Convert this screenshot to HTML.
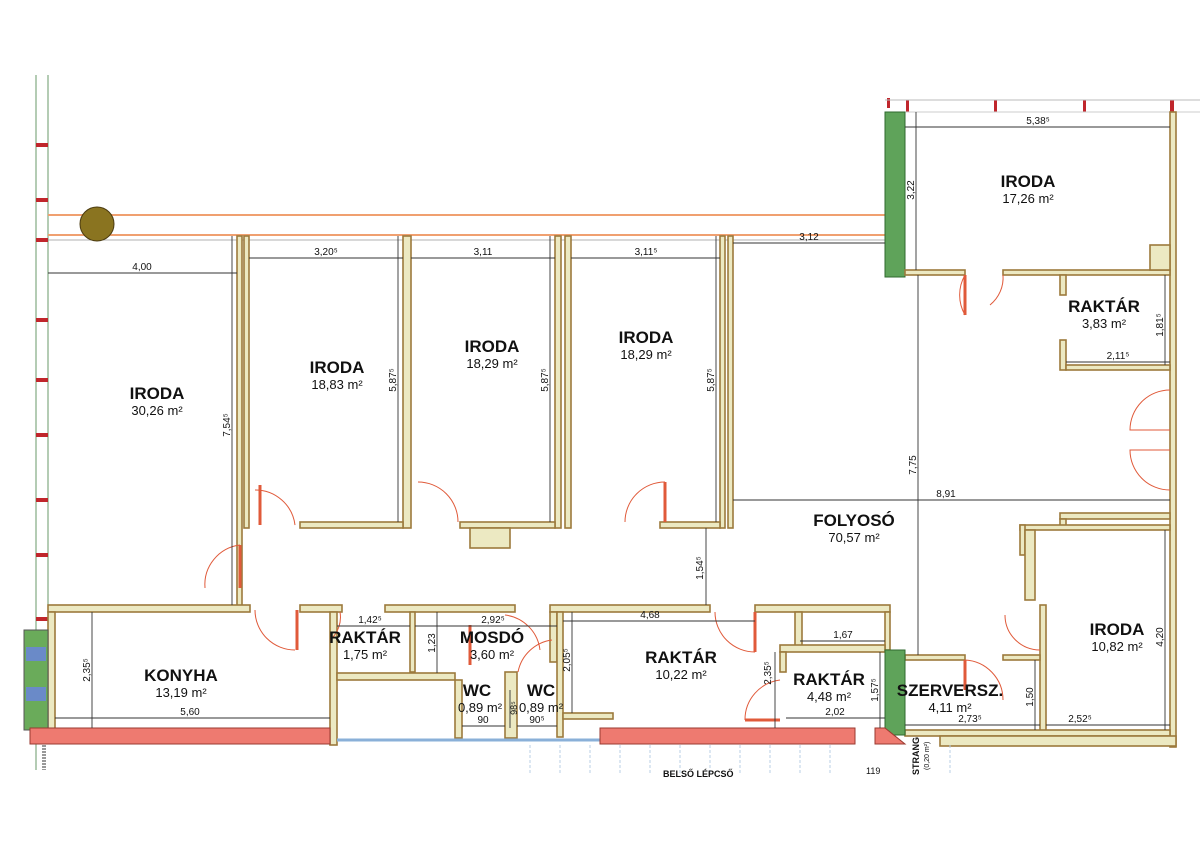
<!DOCTYPE html>
<html><head><meta charset="utf-8"><style>
html,body{margin:0;padding:0;background:#fff}
svg{display:block}
.w{fill:#ece9c2;stroke:#9c7a3c;stroke-width:1.6}
.g{fill:#5fa35a;stroke:#2f6a2f;stroke-width:1}
.r{fill:#ee7a70;stroke:#9a3a30;stroke-width:1}
.d{stroke:#333;stroke-width:0.9;fill:none}
.dr{stroke:#e05a3a;stroke-width:1;fill:none}
.dw{stroke:#e05a3a;stroke-width:3;fill:none}
text{font-family:"Liberation Sans",sans-serif;fill:#111}
.t{font-weight:bold;font-size:17px;text-anchor:middle}
.a{font-size:13px;text-anchor:middle}
.m{font-size:10px;text-anchor:middle}
</style></head><body>
<svg width="1200" height="848" viewBox="0 0 1200 848" xmlns="http://www.w3.org/2000/svg">
<!-- left outer -->
<line x1="36" y1="75" x2="36" y2="770" stroke="#6a9a6a" stroke-width="1"/>
<line x1="48" y1="75" x2="48" y2="630" stroke="#6a9a6a" stroke-width="1"/>
<g fill="#c0262c">
<rect x="36" y="143" width="12" height="4"/><rect x="36" y="198" width="12" height="4"/><rect x="36" y="238" width="12" height="4"/><rect x="36" y="318" width="12" height="4"/><rect x="36" y="378" width="12" height="4"/><rect x="36" y="433" width="12" height="4"/><rect x="36" y="498" width="12" height="4"/><rect x="36" y="553" width="12" height="4"/><rect x="36" y="617" width="12" height="4"/>
<rect x="887" y="98" width="3" height="10"/><rect x="906" y="100" width="3" height="12"/><rect x="994" y="100" width="3" height="12"/><rect x="1083" y="100" width="3" height="12"/><rect x="1170" y="100" width="4" height="12"/>
</g>
<!-- top orange lines -->
<line x1="48" y1="215" x2="885" y2="215" stroke="#f0a070" stroke-width="2"/>
<line x1="48" y1="235" x2="885" y2="235" stroke="#f0a070" stroke-width="2"/>
<line x1="48" y1="240" x2="885" y2="240" stroke="#999" stroke-width="0.8"/>
<circle cx="97" cy="224" r="17" fill="#8a7420" stroke="#4a3a10"/>
<!-- top right thin lines -->
<line x1="885" y1="100" x2="1200" y2="100" stroke="#bbb"/>
<line x1="905" y1="112" x2="1200" y2="112" stroke="#ccc"/>
<rect class="g" x="885" y="112" width="20" height="165"/>
<!-- office partitions -->
<rect class="w" x="237" y="236" width="5" height="370"/>
<rect class="w" x="244" y="236" width="5" height="292"/>
<rect class="w" x="403" y="236" width="8" height="292"/>
<rect class="w" x="555" y="236" width="6" height="292"/>
<rect class="w" x="565" y="236" width="6" height="292"/>
<rect class="w" x="720" y="236" width="5" height="292"/>
<rect class="w" x="728" y="236" width="5" height="292"/>
<rect class="w" x="300" y="522" width="103" height="6"/>
<rect class="w" x="460" y="522" width="95" height="6"/>
<rect class="w" x="470" y="528" width="40" height="20"/>
<rect class="w" x="660" y="522" width="60" height="6"/>
<!-- right side -->
<rect class="w" x="1170" y="112" width="6" height="635"/>
<rect class="w" x="905" y="270" width="60" height="5"/>
<rect class="w" x="1003" y="270" width="167" height="5"/>
<rect class="w" x="1150" y="245" width="20" height="25"/>
<rect class="w" x="1060" y="275" width="6" height="20"/>
<rect class="w" x="1060" y="340" width="6" height="30"/>
<rect class="w" x="1066" y="365" width="104" height="5"/>
<rect class="w" x="1060" y="513" width="110" height="6"/>
<rect class="w" x="1060" y="519" width="6" height="10"/>
<rect class="w" x="1020" y="525" width="150" height="5"/>
<rect class="w" x="1020" y="525" width="5" height="30"/>
<rect class="w" x="1025" y="530" width="10" height="70"/>
<rect class="w" x="1040" y="605" width="6" height="128"/>
<rect class="w" x="1003" y="655" width="37" height="5"/>
<rect class="w" x="905" y="655" width="60" height="5"/>
<rect class="w" x="905" y="730" width="265" height="6"/>
<rect class="w" x="940" y="736" width="236" height="10"/>
<!-- bottom rooms -->
<rect class="w" x="48" y="605" width="202" height="7"/>
<rect class="w" x="48" y="612" width="7" height="118"/>
<rect class="w" x="300" y="605" width="42" height="7"/>
<rect class="w" x="330" y="612" width="7" height="133"/>
<rect class="w" x="337" y="673" width="118" height="7"/>
<rect class="w" x="385" y="605" width="130" height="7"/>
<rect class="w" x="410" y="612" width="5" height="60"/>
<rect class="w" x="455" y="680" width="7" height="58"/>
<rect class="w" x="505" y="672" width="12" height="66"/>
<rect class="w" x="550" y="605" width="160" height="7"/>
<rect class="w" x="550" y="612" width="7" height="50"/>
<rect class="w" x="557" y="612" width="6" height="125"/>
<rect class="w" x="563" y="713" width="50" height="6"/>
<rect class="w" x="755" y="605" width="135" height="7"/>
<rect class="w" x="795" y="612" width="7" height="35"/>
<rect class="w" x="885" y="612" width="5" height="38"/>
<rect class="w" x="780" y="645" width="105" height="7"/>
<rect class="w" x="780" y="652" width="6" height="20"/>
<rect class="g" x="885" y="650" width="20" height="85"/>
<line x1="337" y1="740" x2="600" y2="740" stroke="#8ab0d8" stroke-width="3"/>
<!-- left kitchen column -->
<rect x="24" y="630" width="24" height="100" fill="#6aab5a" stroke="#555"/>
<rect x="26" y="647" width="20" height="14" fill="#6a8ac8"/>
<rect x="26" y="687" width="20" height="14" fill="#6a8ac8"/>
<rect class="r" x="30" y="728" width="300" height="16"/>
<rect class="r" x="600" y="728" width="255" height="16"/>
<polygon class="r" points="875,728 885,728 905,744 875,744"/>
<line x1="44" y1="745" x2="44" y2="770" stroke="#999" stroke-width="4" stroke-dasharray="2,1"/>
<g stroke="#b8cfe6" stroke-width="1" stroke-dasharray="3,2">
<line x1="530" y1="745" x2="530" y2="775"/><line x1="560" y1="745" x2="560" y2="775"/><line x1="590" y1="745" x2="590" y2="775"/><line x1="620" y1="745" x2="620" y2="775"/><line x1="650" y1="745" x2="650" y2="775"/><line x1="680" y1="745" x2="680" y2="775"/><line x1="710" y1="745" x2="710" y2="775"/><line x1="740" y1="745" x2="740" y2="775"/><line x1="770" y1="745" x2="770" y2="775"/><line x1="800" y1="745" x2="800" y2="775"/><line x1="830" y1="745" x2="830" y2="775"/><line x1="950" y1="745" x2="950" y2="775"/>
</g>
<!-- doors -->
<path class="dr" d="M255 490 A40 40 0 0 1 295 525"/><line class="dw" x1="260" y1="485" x2="260" y2="525"/>
<path class="dr" d="M418 482 A40 40 0 0 1 458 522"/>
<path class="dr" d="M625 522 A40 40 0 0 1 665 482"/><line class="dw" x1="665" y1="482" x2="665" y2="522"/>
<path class="dr" d="M205 588 A40 40 0 0 1 240 545"/><line class="dw" x1="240" y1="545" x2="240" y2="588"/>
<path class="dr" d="M255 610 A40 40 0 0 0 295 650"/><line class="dw" x1="297" y1="610" x2="297" y2="650"/>
<path class="dr" d="M715 612 A40 40 0 0 0 755 652"/><line class="dw" x1="755" y1="612" x2="755" y2="652"/>
<path class="dr" d="M745 720 A40 40 0 0 1 780 680"/><line class="dw" x1="745" y1="720" x2="780" y2="720"/>
<path class="dr" d="M965 275 A40 40 0 0 0 965 315"/><line class="dw" x1="965" y1="275" x2="965" y2="315"/>
<path class="dr" d="M1003 275 A35 35 0 0 1 990 305"/>
<path class="dr" d="M1170 390 A40 40 0 0 0 1130 430 L1170 430"/>
<path class="dr" d="M1170 490 A40 40 0 0 1 1130 450 L1170 450"/>
<path class="dr" d="M1005 615 A35 35 0 0 0 1040 650"/>
<path class="dr" d="M965 660 A40 40 0 0 1 1003 700"/><line class="dw" x1="965" y1="660" x2="965" y2="690"/>
<path class="dr" d="M340 612 A30 30 0 0 1 330 640"/>
<path class="dr" d="M505 615 A40 40 0 0 1 540 650"/><path class="dr" d="M552 640 A40 40 0 0 0 518 672"/>
<line class="dw" x1="470" y1="625" x2="470" y2="665"/>
<!-- dimension lines -->
<g class="d">
<line x1="48" y1="273" x2="237" y2="273"/>
<line x1="249" y1="258" x2="403" y2="258"/>
<line x1="411" y1="258" x2="555" y2="258"/>
<line x1="571" y1="258" x2="720" y2="258"/>
<line x1="733" y1="243" x2="885" y2="243"/>
<line x1="905" y1="127" x2="1170" y2="127"/>
<line x1="916" y1="112" x2="916" y2="270"/>
<line x1="232" y1="236" x2="232" y2="605"/>
<line x1="398" y1="236" x2="398" y2="522"/>
<line x1="550" y1="236" x2="550" y2="522"/>
<line x1="716" y1="236" x2="716" y2="522"/>
<line x1="733" y1="500" x2="1170" y2="500"/>
<line x1="918" y1="275" x2="918" y2="655"/>
<line x1="1066" y1="362" x2="1170" y2="362"/>
<line x1="1165" y1="275" x2="1165" y2="365"/>
<line x1="1165" y1="530" x2="1165" y2="730"/>
<line x1="1046" y1="725" x2="1170" y2="725"/>
<line x1="905" y1="725" x2="1040" y2="725"/>
<line x1="1035" y1="660" x2="1035" y2="730"/>
<line x1="706" y1="528" x2="706" y2="605"/>
<line x1="55" y1="718" x2="330" y2="718"/>
<line x1="92" y1="612" x2="92" y2="728"/>
<line x1="337" y1="626" x2="410" y2="626"/>
<line x1="415" y1="626" x2="557" y2="626"/>
<line x1="437" y1="612" x2="437" y2="673"/>
<line x1="563" y1="621" x2="755" y2="621"/>
<line x1="572" y1="612" x2="572" y2="713"/>
<line x1="462" y1="726" x2="505" y2="726"/>
<line x1="517" y1="726" x2="557" y2="726"/>
<line x1="510" y1="690" x2="510" y2="728"/>
<line x1="800" y1="641" x2="885" y2="641"/>
<line x1="786" y1="718" x2="885" y2="718"/>
<line x1="775" y1="652" x2="775" y2="728"/>
<line x1="880" y1="652" x2="880" y2="728"/>
</g>
<!-- dim labels -->
<g class="m">
<text x="142" y="270">4,00</text><text x="326" y="255">3,20⁵</text><text x="483" y="255">3,11</text><text x="646" y="255">3,11⁵</text><text x="809" y="240">3,12</text>
<text x="1038" y="124">5,38⁵</text><text x="946" y="497">8,91</text><text x="1118" y="359">2,11⁵</text>
<text x="1080" y="722">2,52⁵</text><text x="970" y="722">2,73⁵</text><text x="190" y="715">5,60</text>
<text x="370" y="623">1,42⁵</text><text x="493" y="623">2,92⁵</text><text x="650" y="618">4,68</text>
<text x="483" y="723">90</text><text x="537" y="723">90⁵</text><text x="843" y="638">1,67</text><text x="835" y="715">2,02</text>
<text transform="translate(230,425) rotate(-90)">7,54⁵</text>
<text transform="translate(396,380) rotate(-90)">5,87⁵</text>
<text transform="translate(548,380) rotate(-90)">5,87⁵</text>
<text transform="translate(714,380) rotate(-90)">5,87⁵</text>
<text transform="translate(914,190) rotate(-90)">3,22</text>
<text transform="translate(916,465) rotate(-90)">7,75</text>
<text transform="translate(1163,325) rotate(-90)">1,81⁵</text>
<text transform="translate(1163,637) rotate(-90)">4,20</text>
<text transform="translate(1033,697) rotate(-90)">1,50</text>
<text transform="translate(703,568) rotate(-90)">1,54⁵</text>
<text transform="translate(90,670) rotate(-90)">2,35⁵</text>
<text transform="translate(435,643) rotate(-90)">1,23</text>
<text transform="translate(570,660) rotate(-90)">2,05⁵</text>
<text transform="translate(771,673) rotate(-90)">2,35⁵</text>
<text transform="translate(878,690) rotate(-90)">1,57⁵</text>
<text transform="translate(517,708) rotate(-90)" font-size="9">98⁵</text>
</g>
<!-- room labels -->
<text class="t" x="157" y="399">IRODA</text><text class="a" x="157" y="415">30,26 m²</text>
<text class="t" x="337" y="373">IRODA</text><text class="a" x="337" y="389">18,83 m²</text>
<text class="t" x="492" y="352">IRODA</text><text class="a" x="492" y="368">18,29 m²</text>
<text class="t" x="646" y="343">IRODA</text><text class="a" x="646" y="359">18,29 m²</text>
<text class="t" x="1028" y="187">IRODA</text><text class="a" x="1028" y="203">17,26 m²</text>
<text class="t" x="1104" y="312">RAKTÁR</text><text class="a" x="1104" y="328">3,83 m²</text>
<text class="t" x="854" y="526">FOLYOSÓ</text><text class="a" x="854" y="542">70,57 m²</text>
<text class="t" x="1117" y="635">IRODA</text><text class="a" x="1117" y="651">10,82 m²</text>
<text class="t" x="181" y="681">KONYHA</text><text class="a" x="181" y="697">13,19 m²</text>
<text class="t" x="365" y="643">RAKTÁR</text><text class="a" x="365" y="659">1,75 m²</text>
<text class="t" x="492" y="643">MOSDÓ</text><text class="a" x="492" y="659">3,60 m²</text>
<text class="t" x="477" y="696">WC</text><text class="a" x="480" y="712">0,89 m²</text>
<text class="t" x="541" y="696">WC</text><text class="a" x="541" y="712">0,89 m²</text>
<text class="t" x="681" y="663">RAKTÁR</text><text class="a" x="681" y="679">10,22 m²</text>
<text class="t" x="829" y="685">RAKTÁR</text><text class="a" x="829" y="701">4,48 m²</text>
<text class="t" x="950" y="696">SZERVERSZ.</text><text class="a" x="950" y="712">4,11 m²</text>
<text x="663" y="777" font-size="9" font-weight="bold">BELSŐ LÉPCSŐ</text>
<text x="866" y="774" font-size="9" fill="#8a2a6a">119</text>
<text transform="translate(919,775) rotate(-90)" font-size="9" font-weight="bold">STRANG</text>
<text transform="translate(929,770) rotate(-90)" font-size="7">(0,20 m²)</text>
</svg>
</body></html>
